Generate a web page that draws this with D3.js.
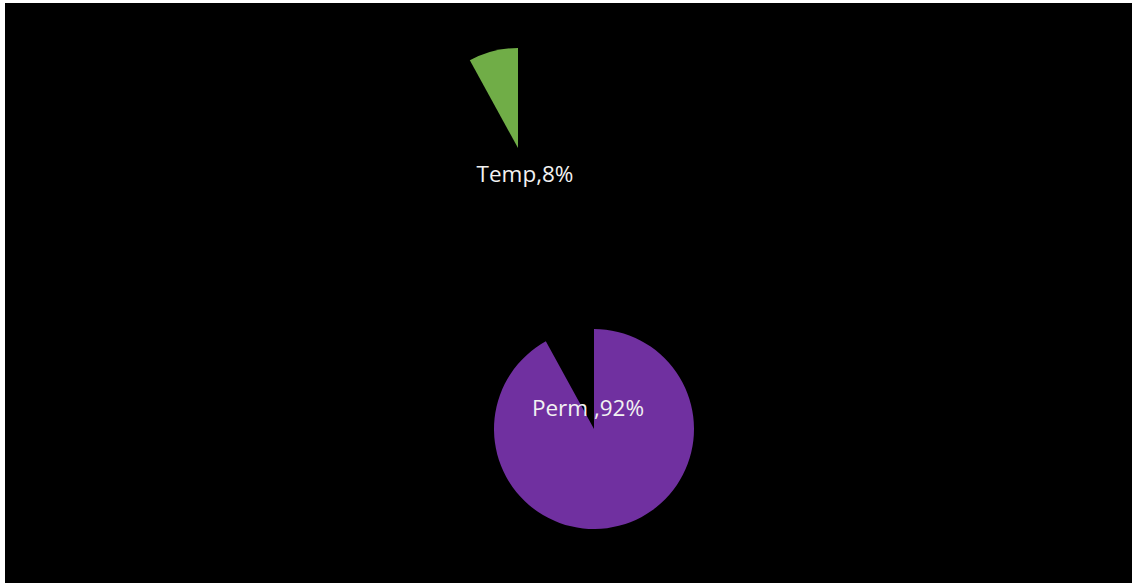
<!DOCTYPE html>
<html><head><meta charset="utf-8">
<script src="https://cdn.jsdelivr.net/npm/d3@7"></script>
<style>html,body{margin:0;padding:0;background:#fff;overflow:hidden}</style>
</head><body>
<svg id="c" width="1134" height="583"></svg>
<script>
const categories = ["Perm", "Temp"];
const values = [92, 8];
const labels = ["Perm ,92%", "Temp,8%"];
const colors = ["#7030A0", "#70AD47"];

const svg = d3.select("#c");
svg.append("rect").attr("x", 5).attr("y", 3).attr("width", 1127).attr("height", 580).attr("fill", "#000");

const radius = 100;
const center = [594, 429];
// exploded offsets (Temp slice pulled far out)
const offsets = [[0, 0], [-76, -281]];
const labelPos = [[588, 416], [525, 182]];

const pie = d3.pie().sort(null).value(d => d);
const arcs = pie(values);
const arc = d3.arc().innerRadius(0).outerRadius(radius);

arcs.forEach((a, i) => {
  svg.append("path")
    .attr("d", arc(a))
    .attr("transform", `translate(${center[0] + offsets[i][0]},${center[1] + offsets[i][1]})`)
    .attr("fill", colors[i]);
});
arcs.forEach((a, i) => {
  svg.append("text")
    .attr("x", labelPos[i][0]).attr("y", labelPos[i][1])
    .attr("text-anchor", "middle")
    .attr("font-family", "Open Sans, sans-serif")
    .attr("font-size", 22.5)
    .attr("fill", "#f2f2f2")
    .text(labels[i]);
});
</script>
</body></html>
